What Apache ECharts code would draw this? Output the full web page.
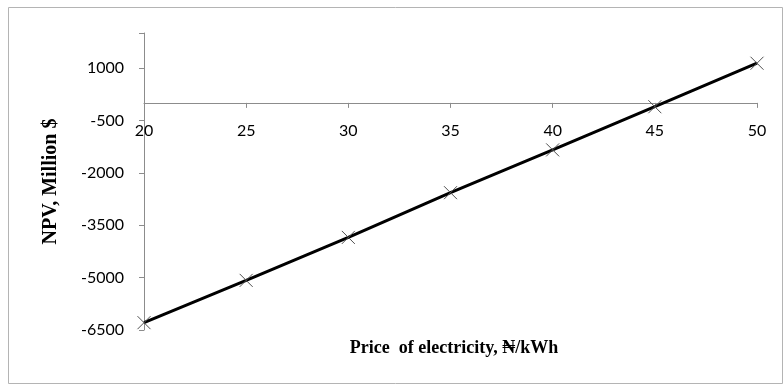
<!DOCTYPE html>
<html>
<head>
<meta charset="utf-8">
<script src="https://cdn.jsdelivr.net/npm/echarts@6/dist/echarts.min.js"></script>
<style>html,body{margin:0;padding:0;background:#fff}#c{width:784px;height:385px}</style>
</head>
<body>
<div id="c"></div>
<script>
var prices = [20, 25, 30, 35, 40, 45, 50];
var npv = [-6290, -5080, -3850, -2570, -1345, -110, 1135];
var xTitle = 'Price  of electricity, \u20A6/kWh';
var yTitle = 'NPV, Million $';

var chart = echarts.init(document.getElementById('c'));
var axisGray = '#8c8c8c';
var yMin = -6500, yMax = 2000;
var gridTop = 33, gridBottom = 55, chartH = 385;
var plotH = chartH - gridTop - gridBottom;
var zeroOffset = -(plotH * (0 - yMin) / (yMax - yMin));
chart.setOption({
  animation: false,
  backgroundColor: '#fff',
  grid: {left: 144, right: 27, top: gridTop, bottom: gridBottom},
  xAxis: {
    type: 'value', min: 20, max: 50, interval: 5,
    position: 'bottom', offset: zeroOffset,
    axisLine: {show: true, onZero: false, lineStyle: {color: axisGray, width: 1}},
    axisTick: {show: true, inside: false, length: 5, lineStyle: {color: axisGray}},
    axisLabel: {color: '#000', fontFamily: 'Lato', fontSize: 16, margin: 20},
    splitLine: {show: false}
  },
  yAxis: {
    type: 'value', min: yMin, max: yMax, interval: 1500,
    axisLine: {show: true, lineStyle: {color: axisGray, width: 1}},
    axisTick: {show: true, length: 5, lineStyle: {color: axisGray}},
    axisLabel: {color: '#000', fontFamily: 'Lato', fontSize: 16, margin: 20,
      formatter: function (v) { return v === 2000 ? '' : String(v); }},
    splitLine: {show: false},
    name: yTitle, nameLocation: 'middle', nameGap: 83, nameRotate: 90,
    nameTextStyle: {fontFamily: 'Liberation Serif', fontWeight: 'bold', fontSize: 20, color: '#000'}
  },
  graphic: [
    {type: 'rect', shape: {x: 8.5, y: 7.5, width: 774, height: 376},
     style: {fill: 'none', stroke: '#b4b4b4', lineWidth: 1}, silent: true},
    {type: 'text', x: 454, y: 348, silent: true,
     style: {text: xTitle, fontFamily: 'Liberation Serif', fontWeight: 'bold', fontSize: 18,
       fill: '#000', align: 'center', verticalAlign: 'middle'}}
  ],
  series: [{
    type: 'line',
    data: prices.map(function (p, i) { return [p, npv[i]]; }),
    lineStyle: {color: '#000', width: 3},
    symbol: 'path://M0,0L10,10M10,0L0,10',
    symbolSize: 13,
    itemStyle: {color: 'none', borderColor: '#505050', borderWidth: 1},
    showSymbol: true,
    z: 3
  }]
});
</script>
</body>
</html>
